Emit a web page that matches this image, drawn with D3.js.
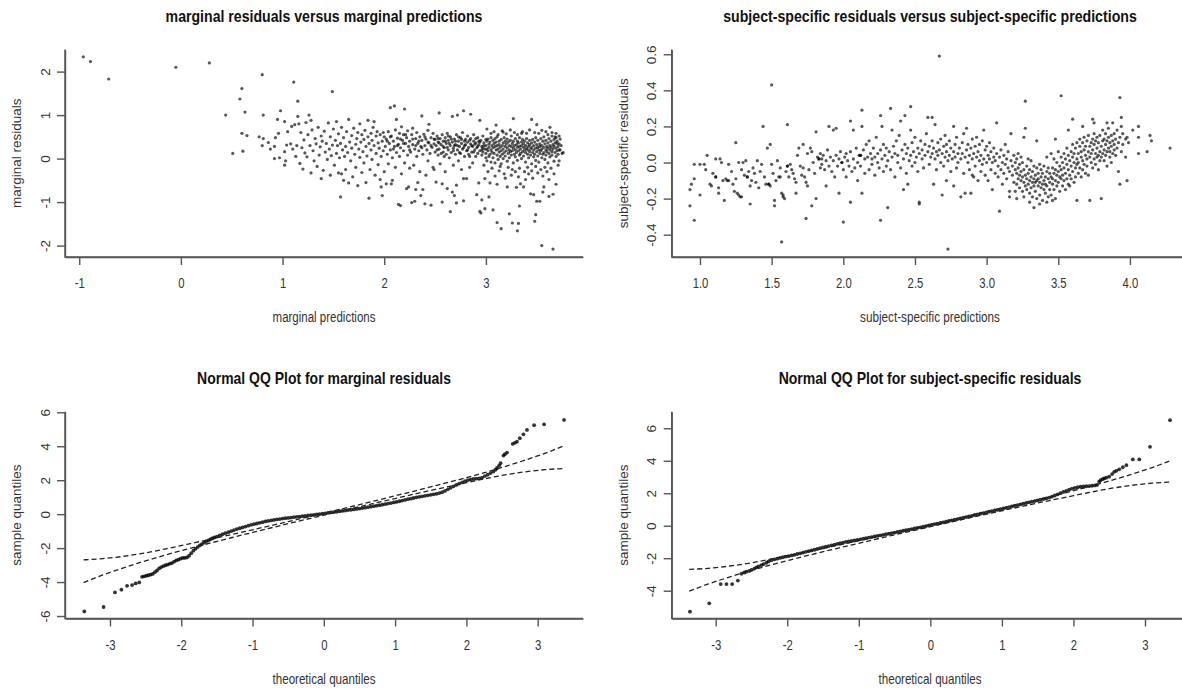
<!DOCTYPE html>
<meta charset="utf-8">
<script src="https://cdn.jsdelivr.net/npm/d3@7"></script>
<style>
  body { margin: 0; background: #fff; }
</style>
<div id="chart"></div>
<script>

// marginal residuals vs marginal predictions  [prediction, residual]
const margPoints = [
  [-0.96,2.34],[-0.89,2.23],[-0.71,1.83],[-0.05,2.10],[0.28,2.20],
  [0.44,1.00],[0.51,0.12],[0.58,1.37],[0.60,1.61],[0.60,0.58],[0.61,0.17],[0.63,1.07],[0.65,0.53],
  [0.77,0.50],[0.80,1.93],[0.80,0.30],[0.81,1.00],[0.81,0.46],[0.86,0.37],[0.88,0.22],[0.92,0.28],[0.93,0.48],
  [0.95,0.90],[0.96,0.58],[0.97,0.02],[0.92,0.00],[0.98,1.10],[1.02,0.85],[1.02,0.16],[1.02,-0.15],[1.03,-0.05],
  [1.04,0.31],[1.05,0.62],
  [1.08,0.34],[1.09,0.74],[1.10,0.22],[1.11,1.76],[1.12,0.78],[1.13,0.05],[1.14,0.30],[1.15,1.32],[1.15,0.97],
  [1.16,0.80],[1.17,-0.11],[1.18,0.60],[1.19,0.25],[1.20,-0.24],[1.21,0.43],[1.22,0.13],[1.23,0.83],[1.24,0.04],
  [1.25,0.55],[1.26,1.00],[1.27,0.30],[1.28,0.88],[1.28,-0.33],[1.29,0.66],[1.30,0.18],[1.31,-0.05],[1.32,0.46],
  [1.33,0.34],[1.34,-0.18],[1.35,0.72],[1.36,0.08],[1.37,0.27],[1.38,0.52],[1.38,-0.46],[1.39,0.40],[1.40,-0.27],
  [1.41,0.63],[1.42,0.15],[1.43,0.35],[1.44,-0.02],[1.45,0.82],[1.46,0.22],[1.47,0.50],[1.47,-0.38],[1.48,0.07],
  [1.49,1.54],[1.49,0.31],[1.50,0.68],
  [1.51,-0.15],[1.52,0.42],[1.53,0.85],[1.53,0.12],[1.54,0.30],[1.55,-0.33],[1.55,0.57],[1.56,0.02],[1.57,-0.88],
  [1.57,0.35],[1.58,-0.35],[1.58,0.72],[1.59,0.20],[1.60,-0.50],[1.60,0.48],[1.61,0.05],[1.62,0.28],[1.62,-0.25],
  [1.63,0.62],[1.64,0.14],[1.65,0.90],[1.65,-0.56],[1.66,0.38],[1.67,-0.05],[1.68,0.53],[1.68,0.24],[1.69,-0.42],
  [1.70,0.70],[1.71,0.10],[1.72,0.33],[1.72,-0.20],[1.73,0.46],[1.74,0.60],[1.74,-0.62],[1.75,0.22],[1.76,0.80],
  [1.76,0.03],[1.77,0.38],[1.78,-0.32],[1.78,0.55],[1.79,0.16],[1.80,0.44],[1.80,-0.10],[1.81,0.65],[1.82,0.28],
  [1.82,-0.55],[1.83,0.06],[1.84,0.50],[1.84,0.88],[1.85,0.35],[1.85,-0.91],[1.86,-0.25],[1.87,0.20],[1.87,0.58],
  [1.88,0.42],[1.88,-0.02],[1.89,0.72],[1.90,0.30],[1.90,0.85],[1.91,-0.38],[1.92,0.52],[1.92,0.12],[1.93,0.62],
  [1.94,-0.14],[1.94,0.36],[1.95,0.24],[1.96,-0.48],[1.96,0.55],[1.97,0.05],[1.97,-0.65],[1.98,0.40],[1.98,-0.85],
  [1.99,0.18],[1.99,0.60],[2.00,0.50],[2.00,-0.30],
  [2.01,0.28],[2.02,-0.58],[2.02,0.45],[2.03,0.10],[2.04,0.62],[2.04,-0.12],[2.05,0.35],[2.06,1.17],[2.06,0.20],
  [2.07,-0.58],[2.07,0.52],[2.08,0.02],[2.08,-0.50],[2.09,0.40],[2.10,1.21],[2.10,0.28],[2.11,-0.20],[2.11,0.66],
  [2.12,0.90],[2.12,0.14],[2.13,0.47],[2.14,-1.05],[2.14,0.33],[2.15,0.05],[2.15,0.58],[2.16,-1.08],[2.16,0.25],
  [2.17,0.73],[2.17,-0.35],[2.18,0.42],[2.19,0.18],[2.19,0.55],[2.20,1.14],[2.20,-0.10],[2.21,0.35],[2.22,-0.69],
  [2.22,0.48],[2.23,0.08],[2.23,0.64],[2.24,-0.65],[2.24,0.28],[2.25,0.40],[2.25,-0.22],[2.26,0.15],[2.27,-1.01],
  [2.27,0.55],[2.28,0.32],[2.28,0.70],[2.29,-0.15],[2.30,-0.98],[2.30,0.22],[2.31,0.46],[2.31,-0.71],[2.32,0.05],
  [2.32,0.60],[2.33,-0.55],[2.33,0.35],[2.34,0.18],[2.35,0.50],[2.35,-0.30],[2.36,-0.85],[2.36,0.28],[2.37,0.98],
  [2.37,0.42],[2.38,-0.71],[2.38,0.10],[2.39,0.56],[2.40,-1.04],[2.40,0.30],[2.41,-0.38],[2.41,0.45],[2.42,0.20],
  [2.43,0.65],[2.43,-0.05],[2.44,0.79],[2.44,0.36],[2.45,0.12],[2.46,-1.07],[2.46,0.48],[2.47,0.26],[2.48,-0.20],
  [2.48,0.58],[2.49,-0.25],[2.49,0.34],[2.50,0.15],[2.50,0.44],
  [2.03,0.40],[2.06,0.50],[2.09,0.22],[2.13,0.30],[2.16,0.45],[2.19,0.35],[2.21,0.55],[2.25,0.20],[2.28,0.45],
  [2.31,0.30],[2.34,0.40],[2.37,0.25],[2.40,0.50],[2.43,0.38],[2.46,0.30],[2.49,0.45],
  [2.51,-0.54],[2.51,0.30],[2.52,0.52],[2.53,0.08],[2.53,0.38],[2.54,1.05],[2.54,0.22],[2.55,0.46],[2.55,-0.12],
  [2.56,0.32],[2.57,-0.58],[2.57,-1.00],[2.57,0.55],[2.58,0.15],[2.58,0.40],[2.59,0.25],[2.60,-0.30],[2.60,0.48],
  [2.61,0.10],[2.61,0.35],[2.62,-0.69],[2.62,0.58],[2.63,0.20],[2.63,0.42],[2.64,0.02],[2.65,-1.22],[2.65,0.30],
  [2.65,0.50],[2.66,0.14],[2.67,0.97],[2.67,-0.77],[2.67,0.38],[2.68,0.24],[2.68,-0.15],[2.69,-0.85],[2.69,0.45],
  [2.70,0.10],[2.70,0.32],[2.71,-1.02],[2.71,-0.61],[2.71,0.55],[2.72,1.00],[2.72,0.20],[2.73,0.40],[2.73,-0.05],
  [2.74,0.28],[2.75,0.48],[2.75,0.12],[2.76,-0.25],[2.76,0.35],[2.77,0.22],[2.77,0.60],[2.78,1.10],[2.78,-0.46],
  [2.78,-0.97],[2.79,0.30],[2.79,0.05],[2.80,0.44],[2.81,-0.46],[2.81,0.18],[2.82,0.38],[2.82,0.52],[2.83,0.10],
  [2.83,0.26],[2.84,-0.20],[2.85,1.02],[2.85,0.34],[2.85,0.46],[2.86,0.15],[2.87,0.28],[2.87,-0.10],[2.88,0.40],
  [2.88,0.55],[2.89,0.20],[2.90,0.05],[2.90,0.36],[2.91,-0.83],[2.91,0.25],[2.92,0.48],[2.92,0.12],[2.93,-0.56],
  [2.93,0.32],[2.94,0.88],[2.94,-1.21],[2.94,0.18],[2.95,-1.25],[2.95,0.42],[2.96,-0.95],[2.96,0.08],[2.96,0.28],
  [2.97,0.52],[2.97,0.15],[2.98,-0.15],[2.98,0.36],[2.99,-0.46],[2.99,-1.15],[2.99,0.22],[3.00,0.44],[3.00,0.02],
  [2.52,0.20],[2.54,0.36],[2.56,0.12],[2.58,0.28],[2.60,0.40],[2.62,0.26],[2.64,0.35],[2.66,0.45],[2.68,0.18],
  [2.70,0.40],[2.72,0.30],[2.74,0.14],[2.76,0.44],[2.78,0.25],[2.80,0.32],[2.82,0.20],[2.84,0.42],[2.86,0.30],
  [2.88,0.15],[2.90,0.46],[2.92,0.28],[2.94,0.38],[2.96,0.20],[2.98,0.30],[2.53,0.46],[2.59,0.05],[2.63,0.52],
  [2.69,0.30],[2.73,0.50],[2.79,0.40],[2.84,0.05],[2.89,0.33],[2.93,0.40],[2.97,0.24],
  [3.01,0.68],[3.03,-0.88],[3.04,-0.56],[3.07,-1.18],[3.10,0.77],[3.11,-0.59],[3.11,-1.47],[3.15,-1.61],[3.17,0.61],
  [3.21,-0.65],[3.23,-1.27],[3.26,-1.48],[3.27,0.92],[3.30,-0.66],[3.31,-1.66],[3.32,-1.49],[3.33,-1.09],[3.34,-0.58],
  [3.35,0.58],[3.37,-0.65],[3.44,-0.81],[3.45,0.90],[3.47,-0.83],[3.48,-1.44],[3.49,-1.29],[3.50,0.78],[3.50,-0.98],
  [3.53,-0.98],[3.55,-2.00],[3.56,-0.77],[3.57,-0.65],[3.62,-0.87],[3.66,-0.82],[3.66,-2.08],[3.69,-0.59],
  [3.02,-0.30],[3.05,0.58],[3.06,-0.22],[3.08,0.62],[3.09,-0.40],[3.12,0.55],[3.13,-0.28],[3.14,-0.18],[3.16,0.64],
  [3.18,-0.35],[3.19,-0.45],[3.20,0.57],[3.22,-0.20],[3.24,0.66],[3.25,-0.38],[3.26,-0.25],[3.28,0.60],[3.29,-0.30],
  [3.31,0.55],[3.32,-0.42],[3.33,-0.22],[3.36,0.62],[3.38,-0.30],[3.39,-0.48],[3.40,0.58],[3.41,-0.20],[3.42,-0.35],
  [3.43,0.66],[3.45,-0.28],[3.46,-0.45],[3.48,0.60],[3.49,-0.18],[3.51,-0.33],[3.52,0.58],[3.54,-0.25],[3.55,0.65],
  [3.56,-0.40],[3.58,-0.20],[3.59,0.62],[3.60,-0.30],[3.61,0.55],[3.62,-0.48],[3.63,0.72],[3.64,-0.22],[3.65,0.60],
  [3.67,-0.35],[3.68,0.50],[3.70,0.35],[3.71,-0.15],[3.72,0.20],[3.74,0.30],[3.75,0.12],[3.73,0.45],[3.69,0.58],
  [3.72,-0.05],[3.76,0.14],
  [3.00,0.30],[3.00,0.12],[3.01,0.40],[3.01,-0.05],[3.01,0.22],[3.02,0.18],[3.02,0.45],[3.03,0.05],[3.03,0.33],
  [3.03,0.26],[3.04,0.38],[3.04,0.10],[3.05,0.20],[3.05,-0.08],[3.05,0.48],[3.06,0.30],[3.06,0.15],[3.07,0.42],
  [3.07,0.02],[3.07,0.25],[3.08,0.12],[3.08,0.35],[3.09,0.28],[3.09,-0.10],[3.09,0.46],[3.10,0.20],[3.10,0.38],
  [3.11,0.08],[3.11,0.30],[3.11,0.50],[3.12,0.22],[3.12,-0.02],[3.13,0.40],[3.13,0.15],[3.13,0.32],[3.14,0.05],
  [3.14,0.26],[3.15,0.44],[3.15,0.18],[3.15,-0.12],[3.16,0.30],[3.16,0.10],[3.17,0.36],[3.17,0.22],[3.17,0.00],
  [3.18,0.48],[3.18,0.14],[3.19,0.28],[3.19,0.06],[3.19,0.40],[3.20,0.18],[3.20,0.34],[3.21,-0.06],[3.21,0.25],
  [3.21,0.45],[3.22,0.12],[3.22,0.38],[3.23,0.30],[3.23,0.02],[3.23,0.20],[3.24,0.42],[3.24,0.16],[3.25,0.08],
  [3.25,0.28],[3.25,0.52],[3.26,0.35],[3.26,0.18],[3.27,-0.10],[3.27,0.24],[3.27,0.40],[3.28,0.10],[3.28,0.30],
  [3.29,0.46],[3.29,0.20],[3.29,0.04],[3.30,0.32],[3.30,0.14],[3.31,0.26],[3.31,-0.04],[3.31,0.40],[3.32,0.18],
  [3.32,0.36],[3.33,0.08],[3.33,0.28],[3.33,0.48],[3.34,0.22],[3.34,0.12],[3.35,0.38],[3.35,0.00],[3.35,0.30],
  [3.36,0.16],[3.36,0.44],[3.37,0.26],[3.37,0.06],[3.37,0.34],[3.38,0.40],[3.38,0.20],[3.39,-0.08],[3.39,0.14],
  [3.39,0.30],[3.40,0.24],[3.40,0.46],[3.41,0.10],[3.41,0.36],[3.41,0.20],[3.42,0.02],[3.42,0.28],[3.43,0.42],
  [3.43,0.16],[3.43,0.32],[3.44,0.22],[3.44,0.08],[3.45,0.36],[3.45,-0.12],[3.45,0.26],[3.46,0.14],[3.46,0.44],
  [3.47,0.30],[3.47,0.04],[3.47,0.20],[3.48,0.38],[3.48,0.10],[3.49,0.24],[3.49,0.48],[3.49,-0.04],[3.50,0.16],
  [3.50,0.32],[3.51,0.06],[3.51,0.26],[3.51,0.42],[3.52,0.20],[3.52,-0.08],[3.53,0.34],[3.53,0.12],[3.53,0.28],
  [3.54,0.46],[3.54,0.18],[3.55,0.02],[3.55,0.30],[3.55,0.22],[3.56,0.40],[3.56,0.10],[3.57,0.26],[3.57,0.50],
  [3.57,0.14],[3.58,-0.02],[3.58,0.34],[3.59,0.20],[3.59,0.08],[3.59,0.42],[3.60,0.28],[3.60,0.16],[3.61,0.36],
  [3.61,-0.10],[3.61,0.24],[3.62,0.12],[3.62,0.46],[3.63,0.30],[3.63,0.04],[3.63,0.20],[3.64,0.40],[3.64,0.26],
  [3.65,0.16],[3.65,0.52],[3.65,0.08],[3.66,0.32],[3.66,0.22],[3.67,-0.06],[3.67,0.44],[3.67,0.28],[3.68,0.14],
  [3.68,0.36],[3.69,0.24],[3.69,0.05],[3.69,0.48],[3.70,0.18],[3.70,0.40],[3.71,0.28],[3.71,0.10],[3.72,0.52],
  [3.72,0.34],[3.73,0.20]
];

// subject-specific residuals vs subject-specific predictions  [prediction, residual]
const subjPoints = [
  [0.93,-0.15],[0.93,-0.24],[0.94,-0.12],[0.96,-0.32],[0.96,-0.09],[0.96,-0.01],[1.00,-0.18],[1.00,-0.01],
  [1.03,-0.01],[1.04,-0.04],[1.05,0.04],[1.07,-0.12],[1.08,-0.13],[1.09,-0.06],[1.11,0.02],[1.11,-0.08],
  [1.11,-0.08],[1.13,-0.14],[1.13,-0.17],[1.14,0.02],[1.15,0.00],[1.16,-0.10],[1.17,-0.21],[1.18,-0.09],
  [1.19,-0.10],[1.20,-0.10],[1.20,-0.01],[1.22,-0.05],[1.23,-0.12],[1.24,-0.16],[1.25,0.11],[1.25,-0.09],
  [1.26,-0.17],[1.27,-0.18],[1.27,0.00],[1.28,-0.19],[1.29,-0.19],[1.29,-0.04],[1.30,0.00],[1.31,-0.07],
  [1.32,0.01],[1.33,-0.08],[1.33,-0.08],[1.34,-0.05],[1.35,-0.13],[1.35,-0.23],[1.36,-0.10],[1.37,-0.03],
  [1.38,-0.06],[1.39,-0.11],[1.40,0.01],[1.41,-0.14],[1.42,-0.05],[1.43,-0.01],[1.44,0.20],[1.45,-0.08],
  [1.46,-0.12],[1.47,0.08],[1.48,-0.12],[1.48,-0.12],[1.49,0.10],[1.49,-0.13],[1.50,0.43],[1.50,-0.01],
  [1.51,-0.06],[1.52,-0.21],[1.52,-0.24],[1.53,-0.10],[1.54,0.01],[1.55,-0.08],[1.56,-0.08],[1.56,-0.03],
  [1.57,-0.17],[1.57,-0.44],[1.58,-0.18],[1.58,-0.19],[1.59,-0.20],[1.60,-0.05],[1.61,0.21],[1.61,-0.02],
  [1.61,-0.02],[1.62,-0.08],[1.63,-0.01],[1.64,-0.04],[1.65,-0.06],[1.66,-0.09],[1.67,-0.17],[1.67,-0.11],
  [1.68,0.04],[1.69,0.08],[1.70,-0.02],[1.71,-0.07],[1.72,0.10],[1.72,-0.03],[1.73,-0.08],[1.74,-0.11],
  [1.74,-0.31],[1.75,-0.13],[1.75,0.05],[1.76,-0.04],[1.77,0.08],[1.78,-0.24],[1.78,0.06],[1.79,0.00],
  [1.80,-0.06],[1.81,-0.20],[1.81,0.17],[1.82,0.03],[1.83,0.02],[1.83,0.02],[1.84,-0.03],[1.84,0.05],
  [1.85,0.02],[1.85,-0.01],[1.86,0.04],[1.87,-0.04],[1.88,-0.13],[1.88,0.01],[1.89,0.07],[1.90,0.20],
  [1.90,-0.02],[1.91,0.03],[1.92,-0.05],[1.93,0.18],[1.93,0.01],[1.94,-0.08],[1.95,0.19],[1.95,0.04],
  [1.96,-0.02],[1.97,-0.17],[1.97,0.02],[1.98,0.06],[1.99,0.00],[1.99,0.00],[2.00,-0.33],[2.00,-0.04],
  [2.01,0.03],[2.02,-0.08],[2.02,0.05],[2.03,0.01],[2.04,-0.02],[2.05,0.23],[2.05,-0.22],[2.05,0.06],
  [2.06,-0.05],[2.07,0.18],[2.07,0.02],[2.08,-0.03],[2.09,0.08],[2.10,0.00],[2.10,-0.10],[2.11,0.04],
  [2.12,0.04],[2.12,0.04],[2.12,-0.02],[2.13,0.29],[2.13,0.20],[2.13,-0.17],[2.14,0.07],[2.15,0.02],
  [2.15,-0.06],[2.16,0.10],[2.17,0.03],[2.18,-0.04],[2.18,0.12],[2.19,0.05],[2.20,-0.01],[2.20,0.02],
  [2.21,0.08],[2.22,-0.07],[2.22,0.03],[2.23,0.14],[2.24,0.00],[2.24,0.05],[2.25,-0.03],[2.26,0.26],
  [2.26,-0.32],[2.26,0.07],[2.27,0.02],[2.27,0.20],[2.28,-0.05],[2.28,0.10],[2.29,0.04],[2.30,-0.02],
  [2.30,0.08],[2.31,-0.25],[2.31,0.01],[2.32,0.06],[2.33,0.30],[2.33,-0.04],[2.34,0.18],[2.34,0.03],
  [2.35,0.09],[2.36,-0.08],[2.36,0.05],[2.37,0.12],[2.38,0.00],[2.38,0.04],[2.39,0.15],[2.40,0.23],
  [2.40,-0.03],[2.41,0.07],[2.42,-0.15],[2.42,0.02],[2.43,0.26],[2.43,0.10],[2.44,0.05],[2.44,-0.06],
  [2.45,-0.12],[2.45,0.08],[2.46,0.01],[2.47,0.31],[2.47,0.18],[2.47,0.04],[2.48,-0.02],[2.48,0.11],
  [2.49,0.06],[2.50,0.00],[2.50,0.14],[2.51,0.03],[2.52,-0.05],[2.52,0.08],[2.53,-0.22],[2.53,-0.23],
  [2.53,0.05],[2.54,0.12],[2.55,0.02],[2.55,0.07],[2.56,-0.03],[2.57,0.10],[2.57,0.04],[2.58,0.16],
  [2.59,0.25],[2.59,0.06],[2.60,-0.01],[2.60,0.09],
  [2.61,0.03],[2.62,0.25],[2.62,0.12],[2.62,0.05],[2.63,-0.12],[2.63,0.08],[2.64,0.21],[2.64,0.02],
  [2.65,0.06],[2.65,-0.04],[2.66,0.11],[2.66,0.04],[2.67,0.59],[2.67,0.07],[2.68,0.00],[2.68,0.13],
  [2.69,-0.18],[2.69,0.05],[2.70,0.09],[2.70,-0.02],[2.71,0.15],[2.71,0.03],[2.72,0.06],[2.72,0.10],
  [2.73,-0.48],[2.73,0.01],[2.74,0.12],[2.74,0.04],[2.75,-0.05],[2.75,0.08],[2.76,0.02],[2.77,0.20],
  [2.77,-0.13],[2.77,0.06],[2.78,0.10],[2.78,0.03],[2.79,-0.03],[2.79,0.14],[2.80,0.05],[2.80,0.00],
  [2.81,0.08],[2.82,-0.19],[2.82,0.02],[2.83,0.11],[2.83,0.05],[2.84,-0.06],[2.84,0.16],[2.85,-0.17],
  [2.85,0.03],[2.86,0.19],[2.86,0.07],[2.87,0.00],[2.87,0.10],[2.88,0.04],[2.88,-0.04],[2.89,-0.17],
  [2.89,0.08],[2.90,0.13],[2.90,0.02],[2.91,-0.08],[2.91,0.05],[2.92,0.09],[2.92,-0.02],[2.93,0.03],
  [2.93,0.14],[2.94,-0.10],[2.94,0.06],[2.95,0.01],[2.95,0.10],[2.96,-0.05],[2.96,0.04],[2.97,0.12],
  [2.97,-0.01],[2.98,0.18],[2.98,0.02],[2.99,0.07],[2.99,-0.07],[3.00,0.00],[3.00,0.09],[3.01,0.04],
  [3.01,-0.10],[3.02,0.02],[3.02,0.11],[3.03,-0.04],[3.03,0.06],[3.04,0.00],[3.04,-0.15],[3.05,0.08],
  [3.05,0.03],[3.06,-0.06],[3.06,0.01],[3.07,0.22],[3.07,0.05],[3.08,-0.02],[3.08,-0.08],[3.09,-0.27],
  [3.09,0.03],[3.10,0.07],[3.10,-0.04],[3.11,0.00],[3.11,-0.12],[3.12,0.04],[3.12,-0.06],[3.13,0.10],
  [3.13,-0.01],[3.14,-0.09],[3.14,0.02],[3.15,-0.03],[3.15,0.06],[3.16,-0.19],[3.16,-0.16],[3.16,-0.05],
  [3.17,0.16],[3.17,0.01],[3.18,-0.07],[3.18,-0.02],[3.19,0.04],[3.19,-0.11],[3.20,-0.16],[3.20,-0.04],
  [3.20,0.00],
  [3.21,-0.06],[3.21,0.02],[3.21,-0.12],[3.22,-0.03],[3.22,-0.09],[3.22,0.05],[3.23,-0.14],[3.23,-0.01],
  [3.23,-0.07],[3.24,0.03],[3.24,-0.10],[3.24,-0.05],[3.25,-0.08],[3.25,-0.16],[3.25,0.00],[3.26,-0.19],
  [3.26,-0.04],[3.26,-0.11],[3.27,0.34],[3.27,0.19],[3.27,-0.07],[3.27,-0.13],[3.28,-0.02],[3.28,-0.09],
  [3.28,-0.15],[3.29,-0.06],[3.29,-0.12],[3.29,0.02],[3.30,-0.10],[3.30,-0.04],[3.30,-0.17],[3.31,-0.08],
  [3.31,-0.14],[3.31,0.01],[3.32,-0.11],[3.32,-0.05],[3.32,-0.19],[3.33,-0.25],[3.33,-0.09],[3.33,-0.02],
  [3.33,-0.13],[3.34,-0.07],[3.34,-0.16],[3.34,-0.11],[3.35,-0.03],[3.35,-0.10],[3.35,-0.20],[3.36,-0.13],
  [3.36,-0.06],[3.36,-0.09],[3.37,-0.18],[3.37,-0.01],[3.37,-0.11],[3.38,-0.08],[3.38,-0.14],[3.38,-0.04],
  [3.39,-0.12],[3.39,-0.21],[3.39,-0.06],[3.40,-0.02],[3.40,-0.10],[3.40,-0.15],[3.41,-0.08],[3.41,-0.17],
  [3.41,-0.12],[3.42,-0.05],[3.42,-0.13],[3.42,0.03],[3.43,-0.19],[3.43,-0.09],[3.43,-0.03],[3.44,-0.11],
  [3.44,-0.06],[3.44,-0.15],[3.45,0.05],[3.45,-0.08],[3.45,-0.18],[3.46,-0.12],[3.46,-0.03],[3.46,-0.09],
  [3.47,-0.15],[3.47,-0.06],[3.47,0.02],[3.48,-0.10],[3.48,-0.20],[3.48,-0.04],[3.49,-0.07],[3.49,0.00],
  [3.49,-0.13],[3.50,-0.11],[3.50,-0.05],[3.50,0.06],[3.51,-0.16],[3.51,-0.02],[3.51,-0.08],[3.52,0.37],
  [3.52,-0.09],[3.52,-0.04],[3.52,0.03],[3.53,-0.13],[3.53,-0.07],[3.53,0.00],[3.54,-0.03],[3.54,-0.10],
  [3.54,0.05],[3.55,-0.06],[3.55,-0.15],[3.55,0.02],[3.56,-0.01],[3.56,-0.09],[3.56,0.08],[3.57,-0.12],
  [3.57,-0.04],[3.57,0.04],[3.58,0.01],[3.58,-0.07],[3.58,-0.13],[3.59,0.06],[3.59,-0.02],[3.59,-0.09],
  [3.60,-0.05],[3.60,0.03],[3.60,0.10],[3.61,-0.11],[3.61,0.00],[3.61,0.05],[3.62,-0.03],[3.62,0.08],
  [3.62,-0.08],[3.63,-0.21],[3.63,0.02],[3.63,-0.01],[3.63,0.11],[3.64,-0.06],[3.64,0.05],[3.64,0.00],
  [3.65,0.09],[3.65,-0.03],[3.65,0.13],[3.66,-0.08],[3.66,0.03],[3.66,0.06],[3.67,0.01],[3.67,0.11],
  [3.67,-0.04],[3.68,0.07],[3.68,-0.01],[3.68,0.14],[3.69,-0.06],[3.69,0.04],[3.69,0.09],[3.70,0.02],
  [3.70,0.12],[3.70,-0.02],[3.71,0.06],[3.71,-0.07],[3.71,0.15],[3.72,-0.21],[3.72,0.03],[3.72,0.09],
  [3.73,0.00],[3.73,0.11],[3.73,0.05],[3.74,0.24],[3.74,0.07],[3.74,-0.03],[3.74,0.13],[3.75,0.02],
  [3.75,0.10],[3.75,0.16],[3.76,0.05],[3.76,-0.01],[3.76,0.12],[3.77,0.08],[3.77,0.14],[3.77,0.03],
  [3.78,0.11],[3.78,0.04],[3.78,-0.04],[3.79,0.06],[3.79,0.15],[3.79,0.01],[3.80,-0.20],[3.80,0.09],
  [3.80,0.03],[3.81,0.12],[3.81,0.05],[3.81,0.18],[3.82,0.07],[3.82,0.01],[3.82,0.13],[3.83,0.10],
  [3.83,0.16],[3.83,0.04],[3.84,0.06],[3.84,0.12],[3.84,-0.02],[3.85,0.14],[3.85,0.08],[3.85,0.19],
  [3.86,0.03],[3.86,0.11],[3.86,0.06],[3.87,0.15],[3.87,0.09],[3.87,0.00],[3.88,0.12],[3.88,0.05],
  [3.89,0.07],[3.89,0.16],[3.89,0.10],[3.90,0.04],[3.90,0.13],[3.91,0.18],[3.91,0.08],[3.92,0.11],
  [3.92,-0.05],[3.93,0.36],[3.93,-0.12],[3.93,0.14],[3.94,0.25],[3.94,0.06],[3.94,0.20],[3.95,0.10],
  [3.95,0.16],[3.97,0.13],[3.97,0.03],[3.98,-0.10],[3.98,0.14],[3.99,0.11],[4.02,0.18],[4.06,0.20],
  [4.06,0.14],[4.06,0.05],[4.12,0.06],[4.14,0.15],[4.15,0.12],[4.28,0.08],
  [3.21,-0.20],[3.30,-0.22],[3.37,-0.23],[3.42,-0.22],[3.46,-0.21],[3.26,0.14],[3.35,0.12],[3.48,0.13],
  [3.57,0.18],[3.67,0.20],[3.75,0.22],[3.84,0.22],[3.88,0.22],[3.60,0.24],[2.72,-0.10],[2.90,-0.07]
];

// normal QQ, marginal residuals  [theoretical quantile, sample quantile]
const margQQ = [
  [-3.36,-5.73],[-3.09,-5.47],[-2.93,-4.61],[-2.84,-4.45],[-2.76,-4.22],[-2.69,-4.18],[-2.64,-4.08],[-2.59,-4.02],
  [-2.55,-3.69],[-2.52,-3.66],[-2.49,-3.63],[-2.46,-3.60],[-2.43,-3.56],[-2.40,-3.52],[-2.37,-3.42],[-2.34,-3.32],
  [-2.31,-3.20],[-2.28,-3.12],[-2.25,-3.06],[-2.22,-3.01],[-2.19,-2.97],[-2.16,-2.92],[-2.13,-2.88],[-2.10,-2.80],
  [-2.07,-2.72],[-2.04,-2.68],[-2.01,-2.62],[-1.98,-2.58],[-1.95,-2.58],[-1.92,-2.55],[-1.89,-2.45],[-1.86,-2.30],
  [-1.83,-2.15],[-1.80,-2.04],[-1.77,-1.94],[-1.74,-1.84],[-1.71,-1.76],[-1.68,-1.68],[-1.65,-1.60],[-1.62,-1.54],
  [-1.59,-1.48],[-1.56,-1.42],[-1.53,-1.37],[-1.50,-1.32],[-1.46,-1.25],[-1.42,-1.18],[-1.38,-1.12],[-1.34,-1.06],
  [-1.30,-1.00],[-1.26,-0.94],[-1.22,-0.88],[-1.18,-0.83],[-1.14,-0.78],[-1.10,-0.73],[-1.06,-0.68],[-1.02,-0.63],
  [-0.98,-0.59],[-0.94,-0.55],[-0.90,-0.51],[-0.86,-0.47],[-0.82,-0.43],[-0.78,-0.40],[-0.74,-0.37],[-0.70,-0.34],
  [-0.66,-0.31],[-0.62,-0.29],[-0.58,-0.26],[-0.54,-0.24],[-0.50,-0.22],[-0.46,-0.20],[-0.42,-0.18],[-0.38,-0.16],
  [-0.34,-0.14],[-0.30,-0.12],[-0.26,-0.10],[-0.22,-0.08],[-0.18,-0.06],[-0.14,-0.04],[-0.10,-0.02],[-0.06,0.00],
  [-0.02,0.03],[0.02,0.05],[0.06,0.07],[0.10,0.10],[0.14,0.12],[0.18,0.14],[0.22,0.17],[0.26,0.19],
  [0.30,0.21],[0.34,0.24],[0.38,0.26],[0.42,0.28],[0.46,0.31],[0.50,0.33],[0.54,0.36],[0.58,0.38],
  [0.62,0.41],[0.66,0.44],[0.70,0.47],[0.74,0.50],[0.78,0.53],[0.82,0.56],[0.86,0.59],[0.90,0.62],
  [0.94,0.65],[0.98,0.69],[1.02,0.72],[1.06,0.76],[1.10,0.80],[1.14,0.84],[1.18,0.88],[1.22,0.91],
  [1.26,0.95],[1.30,0.99],[1.34,1.02],[1.38,1.05],[1.42,1.08],[1.46,1.11],[1.50,1.14],[1.54,1.17],
  [1.58,1.20],[1.62,1.24],[1.66,1.29],[1.70,1.37],[1.74,1.46],[1.78,1.55],[1.82,1.64],[1.86,1.72],
  [1.90,1.80],[1.94,1.87],[1.98,1.94],[2.02,2.00],[2.06,2.04],[2.10,2.07],[2.14,2.09],[2.18,2.11],
  [2.22,2.15],[2.26,2.24],[2.30,2.32],[2.34,2.42],[2.38,2.51],[2.41,2.62],[2.43,2.72],[2.46,2.86],
  [2.48,3.00],[2.52,3.45],[2.54,3.53],[2.57,3.63],[2.65,4.14],[2.68,4.20],[2.71,4.27],[2.75,4.47],
  [2.80,4.70],[2.85,4.96],[2.95,5.24],[3.09,5.29],[3.37,5.55]
];

// normal QQ, subject-specific residuals  [theoretical quantile, sample quantile]
const subjQQ = [
  [-3.36,-5.29],[-3.09,-4.78],[-2.93,-3.59],[-2.85,-3.59],[-2.77,-3.59],[-2.69,-3.38],[-2.64,-2.95],[-2.60,-2.88],
  [-2.57,-2.83],[-2.53,-2.78],[-2.50,-2.72],[-2.46,-2.64],[-2.43,-2.56],[-2.40,-2.50],[-2.36,-2.42],[-2.33,-2.36],
  [-2.29,-2.28],[-2.26,-2.20],[-2.22,-2.12],[-2.18,-2.07],[-2.14,-2.03],[-2.10,-1.98],[-2.06,-1.94],[-2.02,-1.90],
  [-1.98,-1.87],[-1.94,-1.83],[-1.90,-1.79],[-1.86,-1.74],[-1.82,-1.70],[-1.78,-1.66],[-1.74,-1.61],[-1.70,-1.57],
  [-1.66,-1.52],[-1.62,-1.48],[-1.58,-1.43],[-1.54,-1.38],[-1.50,-1.34],[-1.46,-1.29],[-1.42,-1.25],[-1.38,-1.21],
  [-1.34,-1.16],[-1.30,-1.12],[-1.26,-1.08],[-1.22,-1.04],[-1.18,-1.00],[-1.14,-0.97],[-1.10,-0.94],[-1.06,-0.91],
  [-1.02,-0.87],[-0.98,-0.84],[-0.94,-0.80],[-0.90,-0.77],[-0.86,-0.73],[-0.82,-0.70],[-0.78,-0.66],[-0.74,-0.63],
  [-0.70,-0.59],[-0.66,-0.56],[-0.62,-0.52],[-0.58,-0.49],[-0.54,-0.45],[-0.50,-0.42],[-0.46,-0.38],[-0.42,-0.35],
  [-0.38,-0.31],[-0.34,-0.28],[-0.30,-0.24],[-0.26,-0.21],[-0.22,-0.17],[-0.18,-0.13],[-0.14,-0.10],[-0.10,-0.06],
  [-0.06,-0.02],[-0.02,0.02],[0.02,0.06],[0.06,0.10],[0.10,0.13],[0.14,0.17],[0.18,0.21],[0.22,0.25],
  [0.26,0.29],[0.30,0.33],[0.34,0.37],[0.38,0.41],[0.42,0.45],[0.46,0.49],[0.50,0.53],[0.54,0.57],
  [0.58,0.61],[0.62,0.66],[0.66,0.70],[0.70,0.74],[0.74,0.78],[0.78,0.82],[0.82,0.86],[0.86,0.90],
  [0.90,0.94],[0.94,0.98],[0.98,1.02],[1.02,1.06],[1.06,1.10],[1.10,1.15],[1.14,1.19],[1.18,1.23],
  [1.22,1.27],[1.26,1.31],[1.30,1.36],[1.34,1.40],[1.38,1.44],[1.42,1.48],[1.46,1.52],[1.50,1.56],
  [1.54,1.60],[1.58,1.64],[1.62,1.68],[1.66,1.73],[1.70,1.79],[1.74,1.86],[1.78,1.93],[1.82,2.01],
  [1.86,2.08],[1.90,2.15],[1.94,2.22],[1.98,2.28],[2.02,2.33],[2.06,2.37],[2.10,2.40],[2.14,2.42],
  [2.18,2.43],[2.22,2.44],[2.26,2.46],[2.30,2.48],[2.33,2.51],[2.36,2.72],[2.38,2.80],[2.41,2.87],
  [2.43,2.91],[2.46,2.96],[2.50,3.02],[2.54,3.18],[2.57,3.32],[2.60,3.38],[2.64,3.47],[2.69,3.60],
  [2.74,3.73],[2.83,4.08],[2.92,4.08],[3.07,4.86],[3.35,6.50]
];

// dashed envelope drawn in both QQ panels
const envTheo  = [-3.37,-3.1,-2.8,-2.5,-2.2,-1.9,-1.6,-1.3,-1.0,-0.5,0,0.5,1.0,1.3,1.6,1.9,2.2,2.5,2.8,3.1,3.37];
const envUpper = [-2.69,-2.62,-2.48,-2.28,-2.03,-1.76,-1.49,-1.21,-0.92,-0.44,0.06,0.56,1.08,1.39,1.71,2.04,2.38,2.75,3.15,3.58,4.03];
const envLower = [-4.03,-3.58,-3.15,-2.75,-2.38,-2.04,-1.71,-1.39,-1.08,-0.56,-0.06,0.44,0.92,1.21,1.49,1.76,2.03,2.28,2.48,2.62,2.69];

// tick values
const margXTicks = [-1, 0, 1, 2, 3];
const margYTicks = [-2, -1, 0, 1, 2];
const subjXTicks = [1.0, 1.5, 2.0, 2.5, 3.0, 3.5, 4.0];
const subjYTicks = [-0.4, -0.2, 0.0, 0.2, 0.4, 0.6];
const qqXTicks = [-3, -2, -1, 0, 1, 2, 3];
const qqMargYTicks = [-6, -4, -2, 0, 2, 4, 6];
const qqSubjYTicks = [-4, -2, 0, 2, 4, 6];

const font = "'Liberation Sans', Arial, sans-serif";

const svg = d3.select("#chart").append("svg")
    .attr("width", 1182)
    .attr("height", 690)
    .style("background", "#fff")
    .style("font-family", font);

// the picture is squeezed sideways: keep the glyph height, narrow the width
function squeeze(sel, target, x, y) {
  const w = sel.node().getComputedTextLength();
  const sx = w > 0 ? target / w : 1;
  sel.attr("transform", `translate(${x},${y}) scale(${sx.toFixed(4)},1)`);
}

const panels = [
  { title: "marginal residuals versus marginal predictions", titleW: 317,
    xlab: "marginal predictions", xlabW: 103, ylab: "marginal residuals", ylabW: 110,
    left: 65, right: 583, top: 49.5, bottom: 257,
    xDomain: [-1.14, 3.955], yDomain: [-2.262, 2.508],
    xTicks: margXTicks, yTicks: margYTicks, fmt: d => String(d),
    points: margPoints, r: 1.6, op: 0.66 },
  { title: "subject-specific residuals versus subject-specific predictions", titleW: 414,
    xlab: "subject-specific predictions", xlabW: 140, ylab: "subject-specific residuals", ylabW: 154,
    left: 671.7, right: 1182, top: 49.5, bottom: 257,
    xDomain: [0.8026, 4.3633], yDomain: [-0.5238, 0.6264],
    xTicks: subjXTicks, yTicks: subjYTicks, fmt: d => d.toFixed(1),
    points: subjPoints, r: 1.6, op: 0.66, titleX: 930 },
  { title: "Normal QQ Plot for marginal residuals", titleW: 254,
    xlab: "theoretical quantiles", xlabW: 103, ylab: "sample quantiles", ylabW: 104,
    left: 65, right: 583, top: 411.7, bottom: 618.5,
    xDomain: [-3.631, 3.636], yDomain: [-6.147, 6.035],
    xTicks: qqXTicks, yTicks: qqMargYTicks, fmt: d => String(d),
    points: margQQ, r: 1.9, op: 0.8, envelope: true },
  { title: "Normal QQ Plot for subject-specific residuals", titleW: 303,
    xlab: "theoretical quantiles", xlabW: 103, ylab: "sample quantiles", ylabW: 104,
    left: 671.7, right: 1182, top: 411.7, bottom: 618.5,
    xDomain: [-3.615, 3.5174], yDomain: [-5.712, 7.02],
    xTicks: qqXTicks, yTicks: qqSubjYTicks, fmt: d => String(d),
    points: subjQQ, r: 1.9, op: 0.8, envelope: true, titleX: 930 }
];

panels.forEach(p => {
  const x = d3.scaleLinear().domain(p.xDomain).range([p.left, p.right]);
  const y = d3.scaleLinear().domain(p.yDomain).range([p.bottom, p.top]);
  const g = svg.append("g");

  // points
  g.append("g").selectAll("circle")
    .data(p.points)
    .join("circle")
      .attr("cx", d => x(d[0]))
      .attr("cy", d => y(d[1]))
      .attr("r", p.r)
      .attr("fill", "#000")
      .attr("fill-opacity", p.op);

  // dashed envelope lines for the QQ plots
  if (p.envelope) {
    [envUpper, envLower].forEach(band => {
      const line = d3.line()
        .x((d, i) => x(envTheo[i]))
        .y(d => y(d))
        .curve(d3.curveMonotoneX);
      g.append("path")
        .attr("d", line(band))
        .attr("fill", "none")
        .attr("stroke", "#222")
        .attr("stroke-width", 1.3)
        .attr("stroke-dasharray", "5,3");
    });
  }

  // x axis
  const xa = g.append("g")
    .attr("transform", `translate(0,${p.bottom})`)
    .call(d3.axisBottom(x).tickValues(p.xTicks).tickFormat(p.fmt).tickSize(8).tickSizeOuter(0));
  xa.selectAll("text")
    .attr("y", 31.5).attr("dy", 0)
    .attr("transform", "scale(0.78,1)")
    .style("font-family", font).style("font-size", "14.5px").attr("fill", "#333");

  // y axis, R style rotated labels
  const ya = g.append("g")
    .attr("transform", `translate(${p.left},0)`)
    .call(d3.axisLeft(y).tickValues(p.yTicks).tickFormat(p.fmt).tickSize(8).tickSizeOuter(0));
  ya.selectAll("text")
    .attr("x", null).attr("dy", null)
    .attr("text-anchor", "middle")
    .attr("transform", "translate(-15.5,0) rotate(-90)")
    .style("font-family", font).style("font-size", "13.5px").attr("fill", "#333");

  svg.selectAll("path.domain, .tick line").attr("stroke", "#555").attr("stroke-width", 1.4);

  // L-shaped frame
  g.append("path")
    .attr("d", `M${p.left},${p.top}V${p.bottom}H${p.right}`)
    .attr("fill", "none").attr("stroke", "#555").attr("stroke-width", 1.4);

  const cx = p.titleX || (p.left + p.right) / 2;
  const cy = (p.top + p.bottom) / 2;

  const title = g.append("text")
    .attr("text-anchor", "middle")
    .style("font-size", "16.5px").style("font-weight", "bold")
    .attr("fill", "#111")
    .text(p.title);
  squeeze(title, p.titleW, cx, p.top - 27.5);

  const xlab = g.append("text")
    .attr("text-anchor", "middle")
    .style("font-size", "14.5px")
    .attr("fill", "#333")
    .text(p.xlab);
  squeeze(xlab, p.xlabW, cx, p.bottom + 65);

  g.append("text")
    .attr("transform", `translate(${p.left - 44},${cy}) rotate(-90)`)
    .attr("text-anchor", "middle")
    .style("font-size", "13.5px")
    .attr("fill", "#333")
    .text(p.ylab);
});
</script>
